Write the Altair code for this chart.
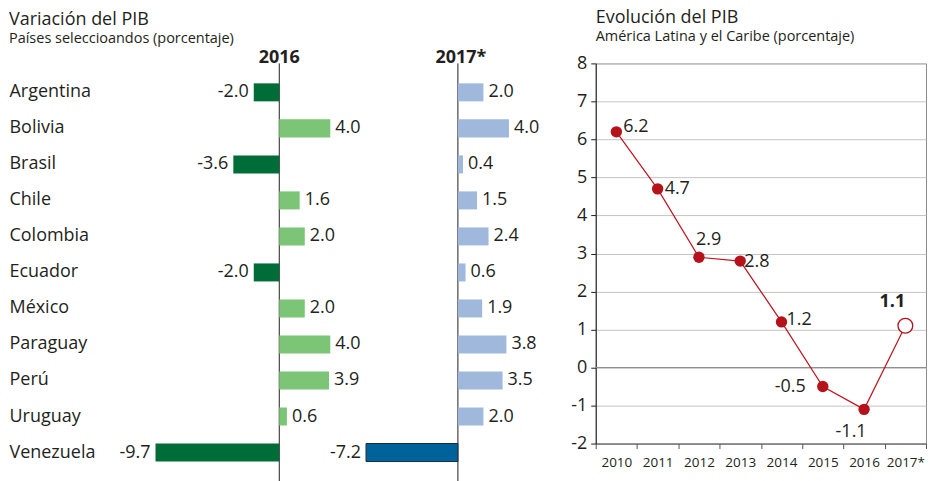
import altair as alt
import pandas as pd

countries = ["Argentina", "Bolivia", "Brasil", "Chile", "Colombia", "Ecuador",
             "México", "Paraguay", "Perú", "Uruguay", "Venezuela"]
gdp_2016 = [-2.0, 4.0, -3.6, 1.6, 2.0, -2.0, 2.0, 4.0, 3.9, 0.6, -9.7]
gdp_2017 = [2.0, 4.0, 0.4, 1.5, 2.4, 0.6, 1.9, 3.8, 3.5, 2.0, -7.2]

years = ["2010", "2011", "2012", "2013", "2014", "2015", "2016", "2017*"]
growth = [6.2, 4.7, 2.9, 2.8, 1.2, -0.5, -1.1, 1.1]

FONT = "Open Sans"
INK = "#231f20"

bar_df = pd.DataFrame({"country": countries, "v2016": gdp_2016, "v2017": gdp_2017})
bar_df["l2016"] = [f"{v:.1f}" for v in gdp_2016]
bar_df["l2017"] = [f"{v:.1f}" for v in gdp_2017]

line_df = pd.DataFrame({"year": years, "growth": growth})
line_df["lab"] = [f"{v:.1f}" for v in growth]

PH = 419
PX = 12.79  # pixels per percentage point in the bar panels


def bar_panel(field, lab, neg_col, pos_col, neg_stroke, header, header_dx, show_axis, xmax, title):
    # countries are already in ascending (alphabetical) order
    y_scale = alt.Scale(paddingInner=0.5, paddingOuter=0.554)
    if show_axis:
        yax = alt.Axis(title=None, domain=False, ticks=False, labelAlign="left",
                       labelPadding=143, labelFont=FONT, labelFontSize=18, labelColor=INK)
        y = alt.Y("country:N", scale=y_scale, axis=yax)
    else:
        y = alt.Y("country:N", scale=y_scale, axis=None)
    x = alt.X(f"{field}:Q", scale=alt.Scale(domain=[-10, xmax], nice=False), axis=None)
    base = alt.Chart(bar_df)
    neg_b = base.transform_filter(f"datum.{field} < 0").mark_bar(
        color=neg_col, stroke="#1d2b3a", strokeWidth=neg_stroke).encode(x=x, y=y)
    pos_b = base.transform_filter(f"datum.{field} >= 0").mark_bar(
        color=pos_col, strokeWidth=0).encode(x=x, y=y)
    neg_t = base.transform_filter(f"datum.{field} < 0").mark_text(
        align="right", dx=-5, font=FONT, fontSize=18, color=INK, baseline="middle"
    ).encode(x=x, y=y, text=f"{lab}:N")
    pos_t = base.transform_filter(f"datum.{field} >= 0").mark_text(
        align="left", dx=5, font=FONT, fontSize=18, color=INK, baseline="middle"
    ).encode(x=x, y=y, text=f"{lab}:N")
    first = base.transform_filter(f"datum.country == '{countries[0]}'").transform_calculate(
        zero="0", head=f"'{header}'")
    rule = first.mark_rule(color=INK, strokeWidth=1).encode(x=alt.X("zero:Q", title=None))
    head = first.mark_text(
        font=FONT, fontSize=18, fontWeight="bold", color=INK, dx=header_dx, dy=-34,
        baseline="middle").encode(x=alt.X("zero:Q", title=None), y=y, text="head:N")
    layers = [rule, neg_b, pos_b, neg_t, pos_t, head]
    width = round((xmax + 10) * PX)
    ch = alt.layer(*layers).properties(width=width, height=PH)
    if title is not None:
        ch = ch.properties(title=title)
    return ch


left_title = alt.Title(
    "Variación del PIB", subtitle="Países seleccioandos (porcentaje)", anchor="start",
    frame="bounds", font=FONT, fontSize=18, fontWeight="normal", color=INK,
    subtitleFont=FONT, subtitleFontSize=14.5, subtitleColor=INK, subtitlePadding=3, offset=4)

p16 = bar_panel("v2016", "l2016", "#006d38", "#7cc576", 0, "2016", 0, True, 4, left_title)
p17 = bar_panel("v2017", "l2017", "#00629b", "#a1b8dd", 1, "2017*", 3, False, 10.8, None)

# ---- right panel: line chart (years already ascending)
x_band = alt.X("year:N",
               scale=alt.Scale(type="band", paddingInner=0, paddingOuter=0),
               axis=alt.Axis(title=None, tickBand="extent", labelAngle=0, labelFont=FONT,
                             labelFontSize=13.5, labelColor=INK, tickSize=5, tickColor="#555",
                             domainColor="#555", labelPadding=7))
y_axis = alt.Axis(title=None, values=list(range(-2, 9)), labelOverlap=False,
                  labelExpr="replace(datum.label, '\u2212', '-')",
                  labelFont=FONT, labelFontSize=18, labelColor=INK, tickSize=5,
                  tickColor=INK, domainColor=INK, grid=True, gridColor="#c4c4c4",
                  labelPadding=4)
y_q = alt.Y("growth:Q", scale=alt.Scale(domain=[-2, 8], nice=False, zero=False), axis=y_axis)

base_r = alt.Chart(line_df).encode(x=x_band, y=y_q)
zero_rule = alt.Chart(line_df).transform_filter(f"datum.year == '{years[0]}'").transform_calculate(
    zero="0").mark_rule(color="#8c8c8c", strokeWidth=1).encode(
    y=alt.Y("zero:Q", scale=alt.Scale(domain=[-2, 8], nice=False, zero=False), axis=y_axis))
line = base_r.mark_line(color="#c1121f", strokeWidth=1.2)
dots = base_r.transform_filter("datum.year != '2017*'").mark_circle(
    size=130, color="#b5121b", opacity=1)
hollow = base_r.transform_filter("datum.year == '2017*'").mark_circle(
    size=220, fill="white", stroke="#b5121b", strokeWidth=1.3, opacity=1)


def lab_layer(year, align, dx, dy, weight="normal"):
    return base_r.transform_filter(f"datum.year == '{year}'").mark_text(
        align=align, dx=dx, dy=dy, font=FONT, fontSize=18, fontWeight=weight, color=INK,
        baseline="middle").encode(text="lab:N")


labels = [
    lab_layer("2010", "left", 7, -5),
    lab_layer("2011", "left", 7, 0),
    lab_layer("2012", "left", -3, -17),
    lab_layer("2013", "left", 4, 1),
    lab_layer("2014", "left", 5, -2),
    lab_layer("2015", "right", -17, 0),
    lab_layer("2016", "center", -13, 23),
    lab_layer("2017*", "center", -13, -24, "bold"),
]

right_title = alt.Title(
    "Evolución del PIB", subtitle="América Latina y el Caribe (porcentaje)", anchor="start",
    frame="group", font=FONT, fontSize=18, fontWeight="normal", color=INK,
    subtitleFont=FONT, subtitleFontSize=14.5, subtitleColor=INK, subtitlePadding=3, offset=10.5)

right = alt.layer(zero_rule, line, dots, hollow, *labels).properties(
    width=331, height=381, title=right_title, view=alt.ViewBackground(stroke="#8a8a8a"))

chart = alt.hconcat(p16, p17, right, spacing=0, bounds="flush").properties(
    padding=0).configure_view(stroke="transparent")

chart.save("out.html", embed_options={"renderer": "svg", "actions": False})
